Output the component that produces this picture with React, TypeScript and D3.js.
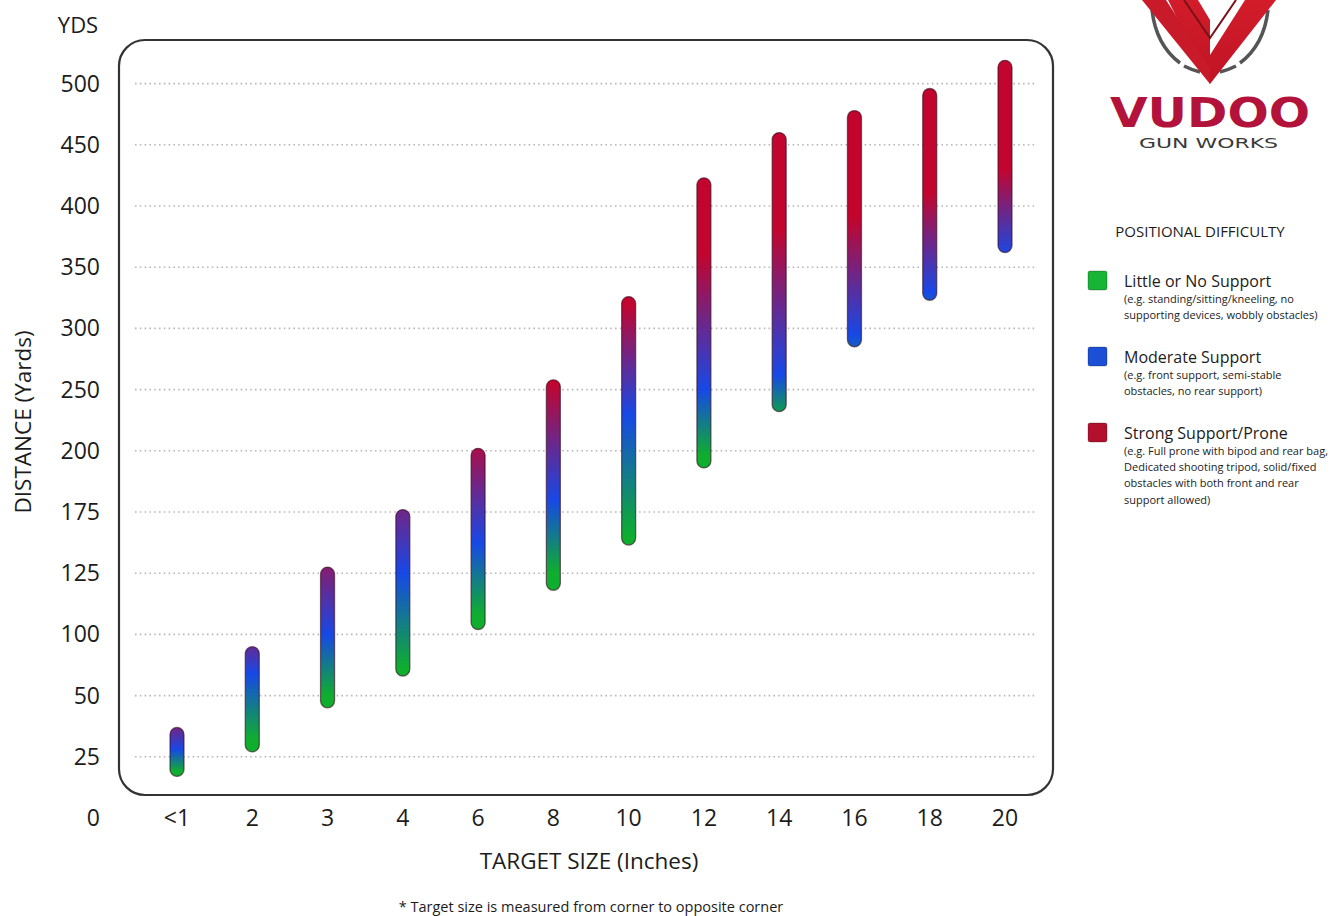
import React from "react";
import * as d3 from "d3";

const categories = ["<1", "2", "3", "4", "6", "8", "10", "12", "14", "16", "18", "20"];
const lowValues = [17, 27, 45, 66, 102, 118, 148, 193, 232, 285, 323, 362];
const highValues = [37, 90, 130, 176, 202, 258, 326, 423, 460, 478, 496, 519];
// value where bar colour is pure green / pure blue / pure red
const greenAt = [19, 32, 50, 72, 108, 125, 155, 198, 225, 250, 280, 320];
const blueAt = [28, 68, 100, 125, 150, 180, 230, 250, 262, 295, 330, 360];
const redAt = [45, 110, 160, 200, 215, 255, 320, 360, 380, 390, 410, 430];
const yTicks = [0, 25, 50, 100, 125, 175, 200, 250, 300, 350, 400, 450, 500];

const legendItems = [
  { color: "#17b436", title: "Little or No Support", lines: ["(e.g. standing/sitting/kneeling, no", "supporting devices, wobbly obstacles)"] },
  { color: "#1a4fd6", title: "Moderate Support", lines: ["(e.g. front support, semi-stable", "obstacles, no rear support)"] },
  { color: "#b3102e", title: "Strong Support/Prone", lines: ["(e.g. Full prone with bipod and rear bag,", "Dedicated shooting tripod, solid/fixed", "obstacles with both front and rear", "support allowed)"] },
];

const GREEN = "#0fae2e";
const BLUE = "#1748e6";
const RED = "#c2052e";
const FONT = "'Open Sans', 'Noto Sans', sans-serif";

export default function App() {
  const W = 1331, H = 916;
  const x = d3.scalePoint<string>().domain(categories).range([177, 1005]);
  const y = d3
    .scaleLinear()
    .domain(yTicks)
    .range(yTicks.map((_, i) => 818 - i * 61.2));

  return (
    <svg width={W} height={H} style={{ position: "absolute", left: 0, top: 0, background: "#fff" }} fontFamily={FONT}>
      <defs>
        {categories.map((c, i) => {
          const y1 = y(greenAt[i]);
          const y2 = y(redAt[i]);
          const off = (y(blueAt[i]) - y1) / (y2 - y1);
          return (
            <linearGradient key={c} id={`g${i}`} gradientUnits="userSpaceOnUse" x1={0} x2={0} y1={y1} y2={y2}>
              <stop offset={0} stopColor={GREEN} />
              <stop offset={off} stopColor={BLUE} />
              <stop offset={1} stopColor={RED} />
            </linearGradient>
          );
        })}
        <linearGradient id="logoRed" x1="0" x2="0" y1="0" y2="1">
          <stop offset="0" stopColor="#d21c2a" />
          <stop offset="1" stopColor="#c01424" />
        </linearGradient>
      </defs>
      <rect x={0} y={0} width={W} height={H} fill="#fff" />

      {/* frame */}
      <rect x={119} y={40} width={934} height={755} rx={26} fill="none" stroke="#333" strokeWidth={2.2} />

      {/* gridlines */}
      {yTicks.slice(1).map((t) => (
        <line key={t} x1={135} x2={1037} y1={y(t)} y2={y(t)} stroke="#b8b8b8" strokeWidth={1.6} strokeDasharray="1.6 3.2" />
      ))}

      {/* y tick labels */}
      {yTicks.map((t) => (
        <text key={t} x={100} y={y(t)} dy="0.35em" textAnchor="end" fontSize={23} fill="#1c1c1c">
          {t}
        </text>
      ))}
      <text x={78} y={25} dy="0.35em" textAnchor="middle" fontSize={22} fill="#1c1c1c">YDS</text>

      {/* x tick labels */}
      {categories.map((c) => (
        <text key={c} x={x(c)} y={818} dy="0.35em" textAnchor="middle" fontSize={23} fill="#1c1c1c">
          {c}
        </text>
      ))}

      {/* axis titles */}
      <text x={589} y={861} dy="0.35em" textAnchor="middle" fontSize={22.5} fill="#1c1c1c">TARGET SIZE (Inches)</text>
      <text transform="translate(23,422) rotate(-90)" textAnchor="middle" dy="0.35em" fontSize={22.5} fill="#1c1c1c">DISTANCE (Yards)</text>
      <text x={591} y={907} dy="0.35em" textAnchor="middle" fontSize={14.5} fill="#1c1c1c">* Target size is measured from corner to opposite corner</text>

      {/* bars */}
      {categories.map((c, i) => {
        const top = y(highValues[i]);
        const bot = y(lowValues[i]);
        return (
          <rect
            key={c}
            x={(x(c) as number) - 7}
            y={top}
            width={14}
            height={bot - top}
            rx={7}
            fill={`url(#g${i})`}
            stroke="rgba(50,10,30,0.6)"
            strokeWidth={1.3}
          />
        );
      })}

      {/* logo */}
      <g>
        <path d="M1152,10 Q1156,45 1180,63" fill="none" stroke="#555" strokeWidth={3.5} />
        <path d="M1184,66 Q1192,70 1200,72" fill="none" stroke="#555" strokeWidth={3.5} />
        <path d="M1268,10 Q1264,45 1240,63" fill="none" stroke="#555" strokeWidth={3.5} />
        <path d="M1236,66 Q1228,70 1220,72" fill="none" stroke="#555" strokeWidth={3.5} />
        <path d="M1168,0 L1198,0 L1210,20 L1210,55 L1245,0 L1276,0 L1210,84 Z" fill="url(#logoRed)" />
        <path d="M1142,0 L1166,0 L1210,68 L1210,84 Z" fill="#c81a28" />
        <path d="M1184,0 L1210,38 L1236,0" fill="none" stroke="#7a1018" strokeWidth={2} />
        <text x={1110} y={127} fontSize={40} fontWeight={900} fill="#b3123a" fontFamily="'DejaVu Sans', sans-serif" textLength={200} lengthAdjust="spacingAndGlyphs">VUDOO</text>
        <text x={1139} y={148} fontSize={14} fill="#3a3a3a" fontFamily="'DejaVu Sans', sans-serif" textLength={139} lengthAdjust="spacingAndGlyphs">GUN WORKS</text>
      </g>

      {/* legend */}
      <text x={1200} y={232} dy="0.35em" textAnchor="middle" fontSize={15} fill="#1c1c1c">POSITIONAL DIFFICULTY</text>
      {legendItems.map((it, k) => {
        const top = 271 + k * 76;
        return (
          <g key={it.title}>
            <rect x={1088} y={top} width={19} height={19} rx={2} fill={it.color} stroke="rgba(0,0,0,0.25)" strokeWidth={1} />
            <text x={1124} y={top + 10} dy="0.35em" fontSize={16} fill="#1c1c1c">{it.title}</text>
            {it.lines.map((l, j) => (
              <text key={j} x={1124} y={top + 28 + j * 16.3} dy="0.35em" fontSize={11} fill="#1c1c1c">{l}</text>
            ))}
          </g>
        );
      })}
    </svg>
  );
}
